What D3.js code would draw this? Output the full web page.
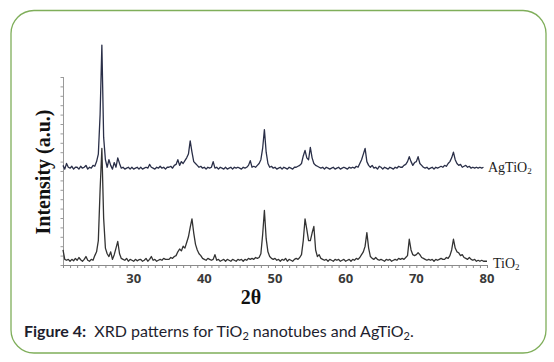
<!DOCTYPE html>
<html>
<head>
<meta charset="utf-8">
<script src="https://cdn.jsdelivr.net/npm/d3@7"></script>
<style>
  body { margin: 0; background: #fff; }
  svg { display: block; }
</style>
</head>
<body>
<svg width="554" height="362"></svg>
<script>
// 2theta start and step of the scans (degrees)
var thetaStart = 20;
var thetaStep = 0.25;

// TiO2 intensities (a.u.), one value every 0.25 deg from 20 to 80
var tio2 = [
  0.8, 0.3, 0.25, 0.3,   0.2, 0.3, 0.22, 0.35,   0.25, 0.4, 0.28, 0.2,   0.3, 0.45, 0.25, 0.2,
  0.3, 0.25, 0.5, 0.7,   1.3, 4.0, 6.2, 2.5,     0.9, 0.6, 0.45, 0.7,    0.3, 0.55, 0.9, 1.25,
  0.6, 0.35, 0.3, 0.25,  0.35, 0.2, 0.3, 0.25,   0.2, 0.3, 0.22, 0.28,   0.3, 0.2, 0.25, 0.35,
  0.2, 0.3, 0.45, 0.25,  0.3, 0.2, 0.25, 0.3,    0.25, 0.35, 0.3, 0.3,   0.3, 0.4, 0.35, 0.45,
  0.5, 0.7, 0.85, 0.75,  1.0, 0.9, 1.2, 1.5,     2.0, 2.45, 1.7, 1.1,    0.8, 0.6, 0.5, 0.35,
  0.3, 0.25, 0.35, 0.3,  0.25, 0.3, 0.55, 0.25,  0.3, 0.2, 0.25, 0.3,    0.2, 0.3, 0.25, 0.2,
  0.3, 0.25, 0.2, 0.3,   0.25, 0.3, 0.2, 0.3,    0.25, 0.35, 0.3, 0.35,  0.3, 0.4, 0.35, 0.4,
  0.6, 1.6, 2.9, 1.4,    0.7, 0.45, 0.35, 0.3,   0.35, 0.25, 0.3, 0.2,   0.3, 0.25, 0.35, 0.2,
  0.3, 0.25, 0.2, 0.3,   0.35, 0.3, 0.4, 0.55,   1.3, 2.45, 1.9, 1.3,    1.3, 1.7, 2.05, 0.8,
  0.45, 0.55, 0.35, 0.3, 0.25, 0.3, 0.2, 0.3,    0.25, 0.2, 0.3, 0.25,   0.3, 0.2, 0.25, 0.3,
  0.2, 0.25, 0.3, 0.2,   0.3, 0.25, 0.35, 0.3,   0.4, 0.55, 0.7, 1.0,    1.72, 0.9, 0.45, 0.35,
  0.3, 0.4, 0.3, 0.25,   0.3, 0.25, 0.2, 0.3,    0.25, 0.3, 0.2, 0.25,   0.3, 0.25, 0.35, 0.3,
  0.35, 0.3, 0.4, 0.5,   1.37, 0.8, 0.55, 0.5,   0.55, 0.65, 0.55, 0.4,  0.35, 0.3, 0.25, 0.3,
  0.25, 0.3, 0.2, 0.3,   0.25, 0.3, 0.35, 0.3,   0.3, 0.4, 0.35, 0.5,    0.8, 1.37, 0.9, 0.7,
  0.65, 0.5, 0.55, 0.4,  0.35, 0.3, 0.4, 0.3,    0.25, 0.3, 0.2, 0.25,   0.2, 0.25, 0.2, 0.2,
  0.2
];

// AgTiO2 intensities (a.u.), stacked above TiO2, from 20 to 79.5
var agtio2 = [
  5.3, 5.1, 5.4, 5.2,    5.15, 5.25, 5.1, 5.2,   5.2, 5.1, 5.25, 5.15,   5.2, 5.3, 5.1, 5.2,
  5.15, 5.3, 5.25, 5.5,  5.9, 8.0, 11.7, 6.8,    5.6, 5.2, 5.6, 5.3,     5.1, 5.45, 5.2, 5.7,
  5.4, 5.15, 5.2, 5.1,   5.15, 5.2, 5.1, 5.2,    5.1, 5.15, 5.2, 5.1,    5.2, 5.1, 5.15, 5.2,
  5.15, 5.35, 5.2, 5.15, 5.1, 5.2, 5.15, 5.25,   5.15, 5.2, 5.1, 5.2,    5.2, 5.25, 5.15, 5.3,
  5.35, 5.6, 5.3, 5.5,   5.4, 5.55, 5.7, 5.9,    6.6, 6.0, 5.5, 5.4,     5.3, 5.2, 5.25, 5.15,
  5.2, 5.1, 5.2, 5.15,   5.2, 5.5, 5.15, 5.2,    5.1, 5.2, 5.15, 5.1,    5.2, 5.1, 5.15, 5.2,
  5.1, 5.2, 5.15, 5.2,   5.15, 5.1, 5.2, 5.15,   5.2, 5.3, 5.55, 5.2,    5.25, 5.2, 5.3, 5.4,
  5.6, 6.2, 7.2, 6.0,    5.4, 5.2, 5.25, 5.15,   5.2, 5.1, 5.15, 5.2,    5.1, 5.2, 5.15, 5.1,
  5.2, 5.15, 5.1, 5.2,   5.2, 5.25, 5.3, 5.4,    5.8, 6.1, 5.7, 5.6,     6.26, 5.7, 5.4, 5.3,
  5.25, 5.2, 5.15, 5.2,  5.1, 5.2, 5.15, 5.1,    5.15, 5.2, 5.1, 5.15,   5.2, 5.1, 5.15, 5.2,
  5.15, 5.1, 5.2, 5.15,  5.2, 5.15, 5.25, 5.2,   5.4, 5.6, 5.9, 6.2,     5.5, 5.3, 5.2, 5.3,
  5.15, 5.2, 5.1, 5.25,  5.2, 5.1, 5.2, 5.15,    5.1, 5.2, 5.15, 5.1,    5.2, 5.15, 5.25, 5.2,
  5.2, 5.3, 5.35, 5.5,   5.76, 5.5, 5.3, 5.45,   5.5, 5.76, 5.4, 5.3,    5.2, 5.15, 5.2, 5.1,
  5.15, 5.2, 5.1, 5.2,   5.15, 5.2, 5.25, 5.2,   5.3, 5.25, 5.4, 5.5,    5.7, 6.0, 5.6, 5.4,
  5.3, 5.35, 5.2, 5.25,  5.3, 5.2, 5.25, 5.15,   5.2, 5.15, 5.2, 5.15,   5.2, 5.15, 5.2
];

var xTicks = [30, 40, 50, 60, 70, 80];
var seriesNames = ["AgTiO2", "TiO2"];
var caption = "Figure 4:";

var svg = d3.select("svg");

// green rounded frame
svg.append("rect")
  .attr("x", 11).attr("y", 10.5)
  .attr("width", 535).attr("height", 342.5)
  .attr("rx", 23).attr("ry", 23)
  .attr("fill", "none")
  .attr("stroke", "#7fae5a")
  .attr("stroke-width", 1.3);

var x = d3.scaleLinear().domain([20, 80]).range([63, 487]);
var y = d3.scaleLinear().domain([0, 10]).range([265, 77]);

function toPoints(vals) {
  return vals.map(function(v, i) { return [thetaStart + i * thetaStep, v]; });
}

var line = d3.line()
  .x(function(d) { return x(d[0]); })
  .y(function(d) { return y(d[1]); });

// axes
var gx = svg.append("g").attr("transform", "translate(0,265)");
gx.call(d3.axisBottom(x).tickValues(d3.range(20, 81, 1)).tickSize(3).tickFormat(""));
gx.selectAll("path, line").attr("stroke", "#8a8a8a");
gx.select(".domain").attr("d", "M" + x(20) + ",0.5H" + x(80));

gx.selectAll("text.lbl")
  .data(xTicks)
  .enter().append("text")
  .attr("class", "lbl")
  .attr("x", function(d) { return x(d); })
  .attr("y", 18)
  .attr("text-anchor", "middle")
  .attr("font-family", "Open Sans, sans-serif")
  .attr("font-weight", "bold")
  .attr("font-size", 13)
  .attr("fill", "#3a3a3a")
  .text(function(d) { return d; });

var gy = svg.append("g").attr("transform", "translate(63,0)");
gy.call(d3.axisLeft(y).tickValues(d3.range(0, 10.01, 0.5)).tickSize(2.5).tickFormat(""));
gy.selectAll("path, line").attr("stroke", "#9a9a9a");
gy.select(".domain").attr("d", "M0.5," + y(10) + "V" + y(0));

// traces
svg.append("path")
  .datum(toPoints(tio2))
  .attr("d", line)
  .attr("fill", "none")
  .attr("stroke", "#333")
  .attr("stroke-width", 1.3)
  .attr("stroke-linejoin", "round");

svg.append("path")
  .datum(toPoints(agtio2))
  .attr("d", line)
  .attr("fill", "none")
  .attr("stroke", "#2a2f48")
  .attr("stroke-width", 1.3)
  .attr("stroke-linejoin", "round");

// series labels with subscript 2
function chem(sel, name) {
  sel.append("tspan").text(name.slice(0, -1));
  sel.append("tspan").attr("font-size", 9).attr("dy", 2).text(name.slice(-1));
}
var ag = svg.append("text")
  .attr("x", 488).attr("y", 172)
  .attr("font-family", "Liberation Serif, serif")
  .attr("font-size", 14).attr("fill", "#222");
chem(ag, seriesNames[0]);
var ti = svg.append("text")
  .attr("x", 493).attr("y", 268)
  .attr("font-family", "Liberation Serif, serif")
  .attr("font-size", 14).attr("fill", "#222");
chem(ti, seriesNames[1]);

// axis titles
svg.append("text")
  .attr("transform", "translate(50,172) rotate(-90)")
  .attr("text-anchor", "middle")
  .attr("font-family", "Liberation Serif, serif")
  .attr("font-weight", "bold")
  .attr("font-size", 20)
  .attr("fill", "#111")
  .text("Intensity (a.u.)");

svg.append("text")
  .attr("x", 251).attr("y", 304)
  .attr("text-anchor", "middle")
  .attr("font-family", "Liberation Serif, serif")
  .attr("font-weight", "bold")
  .attr("font-size", 20)
  .attr("fill", "#111")
  .text("2θ");

// caption
var cap = svg.append("text")
  .attr("x", 24).attr("y", 337)
  .attr("font-family", "Lato, sans-serif")
  .attr("font-size", 16)
  .attr("fill", "#1e1e2e");
cap.append("tspan").attr("font-weight", "bold").text(caption);
cap.append("tspan").text("\u00a0 XRD patterns for TiO");
cap.append("tspan").attr("font-size", 11).attr("dy", 3).text("2");
cap.append("tspan").attr("dy", -3).text(" nanotubes and AgTiO");
cap.append("tspan").attr("font-size", 11).attr("dy", 3).text("2");
cap.append("tspan").attr("dy", -3).text(".");
</script>
</body>
</html>
